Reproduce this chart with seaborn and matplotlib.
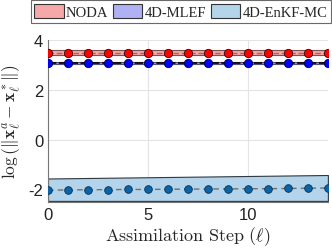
import numpy as np
import pandas as pd
import seaborn as sns
import matplotlib.pyplot as plt
from matplotlib.patches import Patch

# datos
steps = list(range(15))
noda = [3.48, 3.48, 3.48, 3.48, 3.48, 3.48, 3.48, 3.48, 3.48, 3.48, 3.48, 3.48, 3.48, 3.48, 3.48]
noda_lo = [3.38] * 15
noda_hi = [3.60] * 15
mlef = [3.08, 3.08, 3.08, 3.08, 3.08, 3.08, 3.08, 3.08, 3.08, 3.08, 3.08, 3.08, 3.08, 3.08, 3.08]
mlef_lo = [3.03] * 15
mlef_hi = [3.13] * 15
enkf = [-2.03, -2.02, -2.01, -2.01, -2.00, -2.00, -1.99, -1.99, -1.98, -1.98, -1.97, -1.97, -1.96, -1.95, -1.94]
enkf_lo = [-2.46, -2.46, -2.46, -2.46, -2.46, -2.46, -2.46, -2.46, -2.46, -2.46, -2.46, -2.46, -2.46, -2.46, -2.46]
enkf_hi = [-1.56, -1.55, -1.54, -1.53, -1.52, -1.51, -1.50, -1.49, -1.48, -1.47, -1.46, -1.45, -1.44, -1.43, -1.42]
labels = ["NODA", "4D-MLEF", "4D-EnKF-MC"]

df = pd.DataFrame({"step": steps, "NODA": noda, "4D-MLEF": mlef, "4D-EnKF-MC": enkf})

sns.set_style("white")
plt.rcParams["mathtext.fontset"] = "cm"
plt.rcParams["font.family"] = ["Liberation Sans", "DejaVu Sans"]

fig = plt.figure(figsize=(3.32, 2.53), dpi=100)
ax = fig.add_axes([0.1446, 0.198, 0.843, 0.64])

# bandas
ax.fill_between(steps, noda_lo, noda_hi, color="#f5a8a8", edgecolor="#7a5050", lw=0.8, zorder=1)
ax.fill_between(steps, mlef_lo, mlef_hi, color="#9a9acd", edgecolor="#505070", lw=0.8, zorder=1)
ax.fill_between(steps, enkf_lo, enkf_hi, color="#b3d4ea", edgecolor="#303840", lw=0.8, zorder=1)

# lineas
sns.lineplot(data=df, x="step", y="NODA", ax=ax, color="#b06060", lw=1.0, marker="o",
             markersize=6, markerfacecolor="red", markeredgecolor="#400000",
             markeredgewidth=0.6, zorder=3)
ax.lines[-1].set_linestyle((0, (4, 2)))
sns.lineplot(data=df, x="step", y="4D-MLEF", ax=ax, color="black", lw=1.2, marker="o",
             markersize=6, markerfacecolor="blue", markeredgecolor="#000040",
             markeredgewidth=0.6, zorder=3)
ax.lines[-1].set_linestyle((0, (5, 1.5)))
sns.lineplot(data=df, x="step", y="4D-EnKF-MC", ax=ax, color="#707070", lw=1.0, marker="o",
             markersize=5.5, markerfacecolor="#0a64aa", markeredgecolor="#06304f",
             markeredgewidth=0.6, zorder=3)
ax.lines[-1].set_linestyle((0, (4, 3)))

ax.set_xlim(0, 14)
ax.set_ylim(-2.5, 4)
ax.set_xticks([0, 5, 10])
ax.set_yticks([-2, 0, 2, 4])
ax.set_yticklabels(["-2", "0", "2", "4"])
ax.tick_params(labelsize=12, direction="in", length=3, colors="#404040")
for lbl in ax.get_xticklabels() + ax.get_yticklabels():
    lbl.set_color("#222222")
ax.grid(True, color="#e4e4e4", lw=0.8)
ax.set_axisbelow(True)
for s in ["top", "right"]:
    ax.spines[s].set_visible(False)
for s in ["left", "bottom"]:
    ax.spines[s].set_color("#777777")
    ax.spines[s].set_linewidth(0.8)

ax.set_xlabel(r"$\mathrm{Assimilation\ Step\ }(\ell)$", fontsize=13, labelpad=2)
ax.set_ylabel(r"$\log\left(\|\mathbf{x}^a_\ell-\mathbf{x}^*_\ell\|\right)$", fontsize=12.5, labelpad=4)

handles = [Patch(facecolor="#f5a8a8", edgecolor="#333333", lw=0.8),
           Patch(facecolor="#b0b0f5", edgecolor="#333333", lw=0.8),
           Patch(facecolor="#b3d4ea", edgecolor="#333333", lw=0.8)]
leg = fig.legend(handles, labels, loc="upper center", bbox_to_anchor=(0.545, 1.0), ncol=3,
                 prop={"family": "Liberation Serif", "size": 10.5},
                 frameon=True, fancybox=False, edgecolor="#444444",
                 handlelength=2.0, handleheight=1.1, handletextpad=0.15, columnspacing=0.35,
                 borderpad=0.25, borderaxespad=0.1)
leg.get_frame().set_linewidth(0.8)

fig.savefig("out.png", dpi=100)
